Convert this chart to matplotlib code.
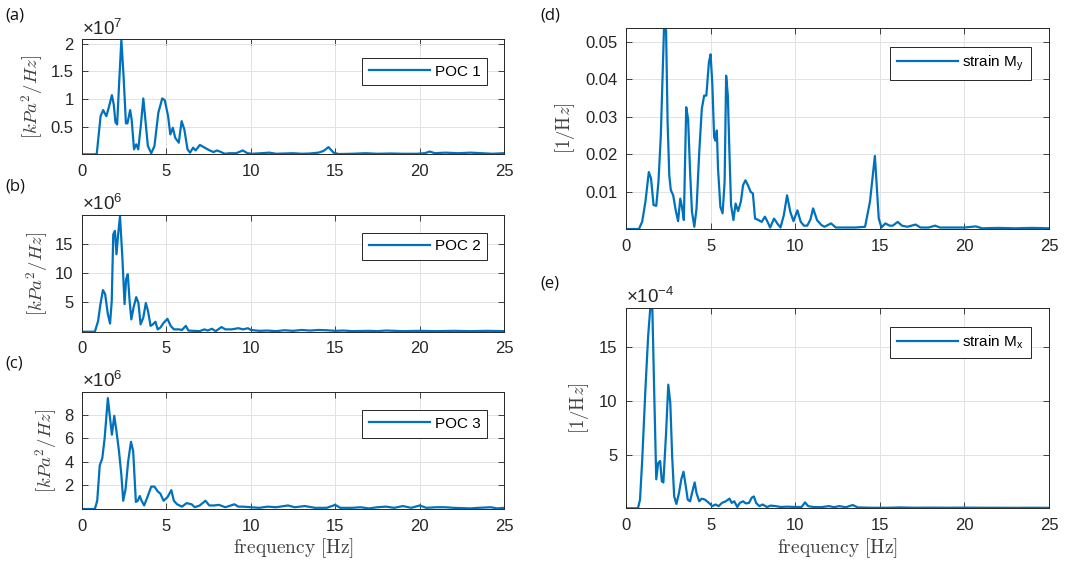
import numpy as np
import matplotlib
matplotlib.use('Agg')
import matplotlib.pyplot as plt
from matplotlib.ticker import FuncFormatter

plt.rcParams['font.family'] = ['Liberation Sans', 'DejaVu Sans']
plt.rcParams['mathtext.fontset'] = 'custom'
plt.rcParams['mathtext.rm'] = 'Liberation Sans'
plt.rcParams['mathtext.it'] = 'Liberation Sans:italic'

# =============================================================================
# Datos (frecuencia en Hz, PSD)
# =============================================================================
# (a) POC 1  [x1e7]
freqPoc1 = [0, 0.87, 1.1, 1.25, 1.44, 1.58, 1.77, 1.88, 1.98, 2.08, 2.21, 2.33, 2.46, 2.6,
            2.69, 2.85, 2.94, 3.08, 3.21, 3.33, 3.48, 3.63, 3.77, 3.9, 4.1, 4.29, 4.52,
            4.75, 4.9, 5.1, 5.23, 5.38, 5.52, 5.73, 5.9, 6.06, 6.25, 6.4, 6.58, 6.73, 6.98,
            7.21, 7.5, 7.79, 7.98, 8.17, 8.46, 8.75, 9.13, 9.52, 9.8, 10.1, 10.6, 11.1,
            11.5, 12.0, 12.5, 13.0, 13.5, 14.0, 14.3, 14.6, 14.9, 15.2, 16.0, 16.8, 17.5,
            18.3, 19.0, 19.8, 20.3, 20.6, 20.9, 21.5, 22.3, 23.0, 23.7, 24.3, 25.0]
psdPoc1 = np.array([0, 0, 0.69, 0.80, 0.69, 0.84, 1.07, 0.90, 0.58, 0.54, 1.36, 2.07, 1.42,
                    0.56, 0.56, 0.80, 0.63, 0.09, 0.18, 0.09, 0.51, 1.01, 0.57, 0.15, 0.02,
                    0.15, 0.75, 1.01, 0.98, 0.69, 0.36, 0.48, 0.30, 0.21, 0.60, 0.45, 0.09,
                    0.03, 0.12, 0.07, 0.17, 0.13, 0.08, 0.04, 0.07, 0.05, 0.01, 0.02, 0.02,
                    0.07, 0.02, 0.01, 0.02, 0.03, 0.01, 0.015, 0.02, 0.01, 0.015, 0.03, 0.06,
                    0.13, 0.03, 0.005, 0.01, 0.02, 0.01, 0.015, 0.01, 0.01, 0.02, 0.05, 0.02,
                    0.03, 0.02, 0.03, 0.02, 0.01, 0.02]) * 1e7

# (b) POC 2  [x1e6]
freqPoc2 = [0, 0.76, 0.95, 1.09, 1.24, 1.37, 1.53, 1.66, 1.76, 1.85, 1.95, 2.04, 2.14, 2.25,
            2.39, 2.52, 2.61, 2.71, 2.82, 2.92, 3.05, 3.21, 3.34, 3.47, 3.63, 3.78, 3.91,
            4.06, 4.2, 4.35, 4.48, 4.64, 4.83, 5.06, 5.25, 5.44, 5.73, 5.92, 6.15, 6.3,
            6.58, 6.97, 7.25, 7.44, 7.69, 7.92, 8.26, 8.49, 8.87, 9.26, 9.54, 9.83, 10.0,
            10.5, 11.0, 11.5, 12.0, 12.5, 13.0, 13.5, 14.0, 14.5, 15.0, 15.5, 16.0, 17.0,
            17.5, 18.0, 19.0, 20.0, 21.0, 22.0, 23.0, 24.0, 25.0]
psdPoc2 = np.array([0, 0, 1.8, 4.7, 7.1, 6.4, 3.0, 1.4, 5.2, 16.6, 17.2, 13.2, 16.6, 19.7,
                    12.6, 4.7, 8.9, 9.8, 5.2, 2.1, 4.1, 5.9, 4.9, 1.25, 2.4, 4.9, 3.5, 1.0,
                    1.25, 1.7, 0.4, 0.7, 1.5, 2.2, 1.0, 0.4, 0.4, 0.3, 1.0, 0.2, 0.15, 0.1,
                    0.4, 0.2, 0.5, 0.1, 0.8, 0.4, 0.4, 0.6, 0.4, 0.6, 0.3, 0.15, 0.2, 0.1,
                    0.25, 0.15, 0.3, 0.2, 0.3, 0.25, 0.15, 0.2, 0.1, 0.15, 0.1, 0.2, 0.1,
                    0.15, 0.1, 0.15, 0.1, 0.15, 0.1]) * 1e6

# (c) POC 3  [x1e6]
freqPoc3 = [0, 0.76, 0.9, 1.05, 1.2, 1.34, 1.53, 1.66, 1.77, 1.91, 2.04, 2.19, 2.33, 2.44,
            2.58, 2.73, 2.9, 3.03, 3.19, 3.3, 3.42, 3.53, 3.68, 3.87, 4.1, 4.29, 4.48, 4.64,
            4.83, 5.06, 5.29, 5.44, 5.63, 5.92, 6.2, 6.49, 6.68, 6.97, 7.31, 7.54, 7.82,
            8.11, 8.49, 9.03, 9.26, 9.54, 10.0, 10.5, 11.0, 11.5, 12.2, 12.6, 13.2, 13.8,
            14.5, 15.0, 15.3, 16.0, 16.5, 17.0, 17.5, 18.0, 18.5, 19.0, 19.5, 20.0, 20.4,
            21.0, 21.5, 22.0, 23.0, 23.5, 24.2, 24.6, 25.0]
psdPoc3 = np.array([0, 0, 0.7, 3.7, 4.3, 6.0, 9.4, 7.7, 6.3, 7.9, 6.6, 4.9, 2.9, 0.7, 1.7,
                    4.0, 5.7, 4.9, 0.6, 0.7, 1.1, 0.7, 0.3, 1.0, 1.9, 1.9, 1.5, 1.3, 0.7,
                    1.0, 1.6, 0.7, 0.4, 0.2, 0.5, 0.4, 0.15, 0.3, 0.7, 0.3, 0.3, 0.35, 0.15,
                    0.4, 0.2, 0.2, 0.15, 0.1, 0.2, 0.15, 0.3, 0.15, 0.25, 0.1, 0.1, 0.35,
                    0.1, 0.1, 0.15, 0.05, 0.15, 0.2, 0.1, 0.25, 0.1, 0.3, 0.1, 0.15, 0.15,
                    0.1, 0.05, 0.1, 0.15, 0.05, 0.1]) * 1e6

# (d) strain My
freqMy = [0, 0.77, 0.96, 1.15, 1.35, 1.48, 1.63, 1.79, 1.92, 2.06, 2.17, 2.25, 2.37, 2.46,
          2.56, 2.65, 2.79, 2.94, 3.08, 3.21, 3.31, 3.42, 3.56, 3.67, 3.79, 3.9, 4.04, 4.17,
          4.33, 4.48, 4.62, 4.75, 4.9, 5.0, 5.1, 5.21, 5.29, 5.37, 5.44, 5.58, 5.71, 5.83,
          5.92, 6.02, 6.12, 6.21, 6.35, 6.48, 6.63, 6.79, 6.92, 7.06, 7.21, 7.37, 7.5,
          7.63, 7.83, 8.02, 8.21, 8.37, 8.52, 8.75, 8.94, 9.13, 9.33, 9.52, 9.71, 9.9,
          10.13, 10.33, 10.52, 10.71, 10.9, 11.06, 11.29, 11.54, 11.73, 12.12, 12.4, 12.98,
          13.56, 14.13, 14.42, 14.71, 14.94, 15.1, 15.33, 15.58, 15.77, 16.06, 16.31, 16.63,
          17.12, 17.4, 17.88, 18.27, 18.56, 19.33, 20.0, 20.67, 21.06, 22.0, 23.0, 24.0, 25.0]
psdMy = [0, 0, 0.002, 0.0073, 0.0152, 0.0135, 0.0064, 0.0062, 0.0126, 0.025, 0.0418, 0.054,
         0.053, 0.0285, 0.0143, 0.0104, 0.009, 0.005, 0.0021, 0.0081, 0.0059, 0.0024, 0.0325,
         0.0294, 0.0152, 0.0046, 0.0006, 0.0055, 0.0205, 0.032, 0.0356, 0.0356, 0.0444,
         0.0466, 0.039, 0.0245, 0.0236, 0.0263, 0.0161, 0.0059, 0.0042, 0.0126, 0.0409,
         0.0356, 0.0196, 0.0064, 0.0024, 0.0068, 0.0048, 0.0073, 0.0117, 0.013, 0.0117,
         0.0099, 0.0095, 0.0028, 0.0024, 0.0019, 0.0033, 0.0019, 0.0004, 0.0028, 0.0015,
         0.0004, 0.0037, 0.009, 0.0046, 0.0021, 0.005, 0.0019, 0.0009, 0.0009, 0.0025,
         0.0055, 0.0024, 0.0011, 0.0006, 0.0015, 0.0004, 0.0004, 0.0004, 0.0006, 0.0073,
         0.0195, 0.0028, 0.0004, 0.0015, 0.0009, 0.0009, 0.0019, 0.0009, 0.0006, 0.0012,
         0.0004, 0.0004, 0.0009, 0.0004, 0.0004, 0.0004, 0.0007, 0.0002, 0.0003, 0.0002,
         0.0003, 0.0002]

# (e) strain Mx  [x1e-4]
freqMx = [0, 0.71, 0.83, 0.96, 1.15, 1.31, 1.44, 1.56, 1.67, 1.79, 1.9, 2.02, 2.12, 2.21,
          2.37, 2.5, 2.62, 2.73, 2.85, 2.98, 3.13, 3.27, 3.4, 3.52, 3.65, 3.79, 3.9, 4.06,
          4.17, 4.33, 4.48, 4.67, 4.9, 5.1, 5.29, 5.48, 5.67, 5.9, 6.12, 6.25, 6.4, 6.58,
          6.73, 6.92, 7.08, 7.27, 7.44, 7.56, 7.69, 7.88, 8.08, 8.33, 8.56, 8.85, 9.13,
          9.52, 10.0, 10.38, 10.58, 10.77, 11.06, 11.5, 12.0, 12.3, 12.6, 13.0, 13.4, 13.7,
          14.5, 15.5, 16.2, 17.0, 18.0, 19.0, 20.0, 21.0, 22.0, 23.0, 24.0, 25.0]
psdMx = np.array([0, 0, 0.8, 4.5, 11.1, 16.0, 18.7, 18.5, 10.7, 2.7, 4.2, 4.4, 2.5, 2.4,
                  7.0, 11.5, 9.8, 4.8, 1.1, 0.4, 1.4, 2.7, 3.4, 2.2, 0.8, 0.65, 1.4, 2.4,
                  1.4, 0.65, 0.9, 0.8, 0.5, 0.2, 0.35, 0.2, 0.5, 0.65, 0.9, 0.5, 0.65, 0.12,
                  0.5, 0.65, 0.45, 0.5, 1.0, 1.1, 0.5, 0.2, 0.35, 0.12, 0.25, 0.2, 0.12,
                  0.15, 0.12, 0.12, 0.55, 0.2, 0.12, 0.1, 0.2, 0.1, 0.2, 0.1, 0.3, 0.08,
                  0.05, 0.05, 0.08, 0.05, 0.06, 0.05, 0.06, 0.05, 0.05, 0.04, 0.05, 0.04]) * 1e-4

ticksX = [0, 5, 10, 15, 20, 25]
colorLinea = '#0072BD'
colorEjes = '#262626'

# =============================================================================
# Figura y ejes (posiciones medidas en pixeles sobre 1075x563)
# =============================================================================
fig = plt.figure(figsize=(10.75, 5.63), dpi=100)
axA = fig.add_axes([0.0763, 0.7259, 0.3926, 0.2043])
axB = fig.add_axes([0.0763, 0.4108, 0.3926, 0.2073])
axC = fig.add_axes([0.0763, 0.0959, 0.3926, 0.2083])
axD = fig.add_axes([0.5823, 0.5932, 0.3935, 0.3575])
axE = fig.add_axes([0.5823, 0.0972, 0.3935, 0.3563])


def estiloEjes(ax, ymax, yticks, escala=1.0, exponente=None):
    ax.set_xlim(0, 25)
    ax.set_ylim(0, ymax)
    ax.set_xticks(ticksX)
    ax.set_yticks(yticks)
    ax.yaxis.set_major_formatter(FuncFormatter(lambda v, p: '%g' % round(v / escala, 6)))
    ax.grid(True, color='#e2e2e2', linewidth=0.7)
    ax.set_axisbelow(True)
    ax.tick_params(direction='in', top=True, right=True, length=4, width=0.6,
                   colors=colorEjes, labelsize=12, pad=6)
    ax.tick_params(axis='x', pad=7)
    for s in ax.spines.values():
        s.set_color(colorEjes)
        s.set_linewidth(0.7)
    if exponente is not None:
        ax.text(0.0, 1.005, r'$\times10^{%s}$' % exponente, transform=ax.transAxes,
                fontsize=13.5, color=colorEjes, ha='left', va='bottom')


def leyenda(ax, x, y):
    leg = ax.legend(loc='upper right', bbox_to_anchor=(x, y), borderaxespad=0,
                    fontsize=11, handlelength=4.0, handletextpad=0.3, fancybox=False,
                    framealpha=1, edgecolor=colorEjes, borderpad=0.45)
    leg.get_frame().set_linewidth(0.7)


axA.plot(freqPoc1, psdPoc1, color=colorLinea, lw=1.6, label='POC 1')
estiloEjes(axA, 2.08e7, [0.5e7, 1e7, 1.5e7, 2e7], 1e7, '7')
leyenda(axA, 0.96, 0.84)

axB.plot(freqPoc2, psdPoc2, color=colorLinea, lw=1.6, label='POC 2')
estiloEjes(axB, 19.9e6, [5e6, 10e6, 15e6], 1e6, '6')
leyenda(axB, 0.96, 0.85)

axC.plot(freqPoc3, psdPoc3, color=colorLinea, lw=1.6, label='POC 3')
estiloEjes(axC, 9.94e6, [2e6, 4e6, 6e6, 8e6], 1e6, '6')
leyenda(axC, 0.96, 0.845)

axD.plot(freqMy, psdMy, color=colorLinea, lw=1.6, label=r'strain M$_\mathrm{y}$')
estiloEjes(axD, 0.0537, [0.01, 0.02, 0.03, 0.04, 0.05])
leyenda(axD, 0.957, 0.905)

axE.plot(freqMx, psdMx, color=colorLinea, lw=1.6, label=r'strain M$_\mathrm{x}$')
estiloEjes(axE, 18.66e-4, [5e-4, 10e-4, 15e-4], 1e-4, '-4')
leyenda(axE, 0.957, 0.905)

# Etiquetas de ejes estilo LaTeX
for ax in (axA, axB, axC):
    ax.set_ylabel(r'$[kPa^2/Hz]$', fontsize=13.5, color='#404040', math_fontfamily='cm',
                  labelpad=4)
for ax in (axD, axE):
    ax.set_ylabel(r'$[1/\mathrm{H}z]$', fontsize=13.5, color='#404040', math_fontfamily='cm',
                  labelpad=6)
for ax in (axC, axE):
    ax.set_xlabel(r'$\mathrm{frequency}\ [\mathrm{Hz}]$', fontsize=14, color='#404040',
                  math_fontfamily='cm', labelpad=2)

# Letras de los paneles
for letra, px, py in [('(a)', 5, 16), ('(b)', 5, 186), ('(c)', 5, 364),
                      ('(d)', 540, 16), ('(e)', 540, 284)]:
    fig.text(px / 1075, 1 - py / 563, letra, fontsize=12, family='Open Sans',
             ha='left', va='center', color='#111111')

fig.savefig('out.png', dpi=100)
